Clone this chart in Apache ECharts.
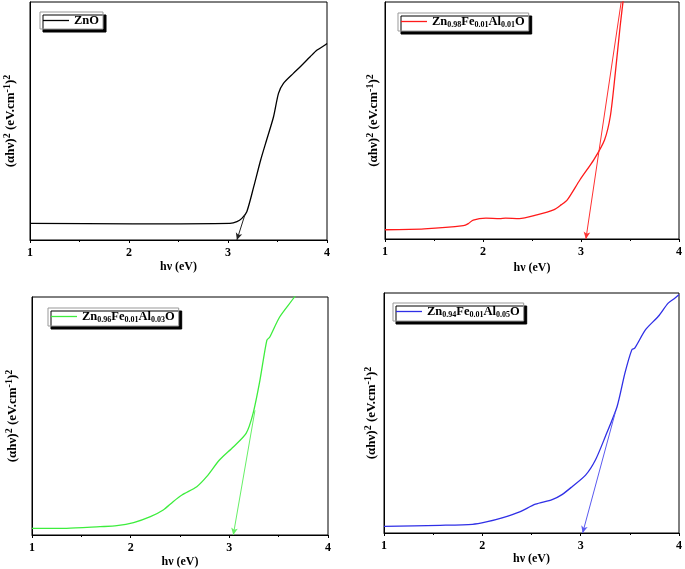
<!DOCTYPE html>
<html>
<head>
<meta charset="utf-8">
<style>
  html, body { margin: 0; padding: 0; background: #fff; }
  #chart { width: 685px; height: 569px; }
</style>
<script src="https://cdn.jsdelivr.net/npm/echarts@6/dist/echarts.min.js"></script>
</head>
<body>
<div id="chart"></div>
<script>
// Tauc plots, y in arbitrary units (0..100 of the frame)
var xTicks = [1, 2, 3, 4];

var znoX = [1, 2.04, 3.02, 3.09, 3.14, 3.19, 3.26, 3.33, 3.39, 3.46, 3.51, 3.56, 3.66, 3.73, 3.83, 3.9, 3.98, 4.0];
var znoY = [7.0, 6.8, 7.0, 7.7, 9.1, 11.9, 22.4, 33.6, 42, 51.8, 61.6, 65.8, 70, 72.8, 77, 79.8, 81.9, 82.6];
var znoTangent = [[3.17, 10.5], [3.09, 0]];

var al1X = [1, 1.4, 1.8, 1.85, 1.9, 2.03, 2.17, 2.23, 2.37, 2.55, 2.72, 2.8, 2.86, 2.99, 3.13, 3.24, 3.3, 3.35, 3.4, 3.44];
var al1Y = [3.9, 4.3, 5.6, 6.5, 8.0, 8.8, 8.6, 8.8, 8.6, 10.2, 12.3, 14.5, 16.5, 25, 33.4, 41.8, 52, 70, 90, 104];
var al1Tangent = [[3.41, 100], [3.05, 0]];

var al3X = [1, 1.35, 1.69, 1.86, 2.03, 2.2, 2.33, 2.43, 2.52, 2.67, 2.77, 2.9, 3.04, 3.17, 3.24, 3.31, 3.38, 3.41, 3.51, 3.66, 3.7];
var al3Y = [2.8, 2.8, 3.5, 3.9, 5.2, 7.7, 10.5, 14, 16.8, 20.3, 24.5, 31.5, 37, 42.7, 51, 65, 81.8, 83.2, 91.6, 100, 103];
var al3Tangent = [[3.26, 52.4], [3.04, 0]];

var al5X = [1, 1.57, 1.9, 2.04, 2.21, 2.38, 2.54, 2.71, 2.81, 2.91, 3.05, 3.15, 3.25, 3.37, 3.45, 3.52, 3.55, 3.66, 3.79, 3.89, 3.96, 4.0];
var al5Y = [2.8, 3.2, 3.6, 4.6, 6.4, 8.8, 12, 13.9, 16, 19.2, 24.1, 30.4, 40.1, 52.6, 66.6, 76.3, 77, 84.7, 90.3, 95.8, 97.9, 99.3];
var al5Tangent = [[3.35, 49.9], [3.02, 0]];

var names = ['ZnO', 'Zn0.98Fe0.01Al0.01O', 'Zn0.96Fe0.01Al0.03O', 'Zn0.94Fe0.01Al0.05O'];
var labels = {
  'ZnO': '{m|ZnO}',
  'Zn0.98Fe0.01Al0.01O': '{m|Zn}{s|0.98}{m|Fe}{s|0.01}{m|Al}{s|0.01}{m|O}',
  'Zn0.96Fe0.01Al0.03O': '{m|Zn}{s|0.96}{m|Fe}{s|0.01}{m|Al}{s|0.03}{m|O}',
  'Zn0.94Fe0.01Al0.05O': '{m|Zn}{s|0.94}{m|Fe}{s|0.01}{m|Al}{s|0.05}{m|O}'
};
var colors = ['#000000', '#ff1a1a', '#3ded3d', '#2f2fe6'];
var tangentColors = ['#222222', '#ff3030', '#66f066', '#5a5af0'];

var xs = [znoX, al1X, al3X, al5X];
var ys = [znoY, al1Y, al3Y, al5Y];
var tangents = [znoTangent, al1Tangent, al3Tangent, al5Tangent];

var font = 'Liberation Serif';

var grids = [
  {left: 30, top: 2, width: 297, height: 238},
  {left: 385, top: 2, width: 296, height: 237},
  {left: 32, top: 297, width: 296, height: 238},
  {left: 384, top: 293, width: 297, height: 240}
];
var yNameGap = [11, 3, 11, 4];
var xNameGap = [21, 23, 21, 20];
var legendPos = [[40, 12], [398, 13], [48, 308], [393, 303]];

var option = {
  animation: false,
  backgroundColor: '#fff',
  grid: grids.map(function (g) {
    return Object.assign({show: true, borderColor: '#000', borderWidth: 1, backgroundColor: 'transparent'}, g);
  }),
  xAxis: grids.map(function (g, i) {
    return {
      gridIndex: i, type: 'value', min: 1, max: 4, interval: 1,
      name: 'hν (eV)', nameLocation: 'middle', nameGap: xNameGap[i],
      nameTextStyle: {fontFamily: font, fontWeight: 'bold', fontSize: 12, color: '#000'},
      axisLine: {lineStyle: {color: '#000', width: 1}},
      axisTick: {length: 3, lineStyle: {color: '#000'}},
      minorTick: {show: true, splitNumber: 2, length: 2, lineStyle: {color: '#000'}},
      axisLabel: {fontFamily: font, fontWeight: 'bold', fontSize: 12, color: '#000', margin: 7},
      splitLine: {show: false}
    };
  }),
  yAxis: grids.map(function (g, i) {
    return {
      gridIndex: i, type: 'value', min: 0, max: 100,
      name: '{m|(αhν)}{p|2}{m| (eV.cm}{p|-1}{m|)}{p|2}',
      nameLocation: 'middle', nameRotate: 90, nameGap: yNameGap[i],
      nameTextStyle: {
        rich: {
          m: {fontFamily: font, fontWeight: 'bold', fontSize: 13, color: '#000', lineHeight: 17},
          p: {fontFamily: font, fontWeight: 'bold', fontSize: 10, color: '#000', lineHeight: 10, verticalAlign: 'top'}
        }
      },
      axisLine: {show: true, lineStyle: {color: '#000'}},
      axisTick: {show: false},
      axisLabel: {show: false},
      splitLine: {show: false}
    };
  }),
  legend: names.map(function (n, i) {
    return {
      data: [n], left: legendPos[i][0], top: legendPos[i][1],
      icon: 'rect', itemWidth: 26, itemHeight: 1.3, itemGap: 4,
      padding: [2, 4, 2, 3],
      backgroundColor: '#fff', borderColor: '#999', borderWidth: 1,
      shadowColor: '#000', shadowBlur: 0, shadowOffsetX: 3, shadowOffsetY: 3,
      formatter: function (name) { return labels[name]; },
      textStyle: {
        rich: {
          m: {fontFamily: font, fontWeight: 'bold', fontSize: 12.5, color: '#000', lineHeight: 15},
          s: {fontFamily: font, fontWeight: 'bold', fontSize: 8, color: '#000', lineHeight: 8, verticalAlign: 'bottom'}
        }
      }
    };
  }),
  series: names.map(function (n, i) {
    var t = tangents[i];
    return {
      name: n, type: 'line', xAxisIndex: i, yAxisIndex: i,
      data: xs[i].map(function (x, k) { return [x, ys[i][k]]; }),
      showSymbol: false, symbol: 'none', smooth: 0.25, clip: true,
      lineStyle: {color: colors[i], width: 1.3},
      itemStyle: {color: colors[i]},
      markLine: {
        silent: true, symbol: ['none', 'arrow'], symbolSize: [5, 7],
        label: {show: false},
        lineStyle: {color: tangentColors[i], width: 1, type: 'solid'},
        data: [[{coord: t[0]}, {coord: t[1]}]]
      }
    };
  })
};

var chart = echarts.init(document.getElementById('chart'));
chart.setOption(option);
</script>
</body>
</html>
